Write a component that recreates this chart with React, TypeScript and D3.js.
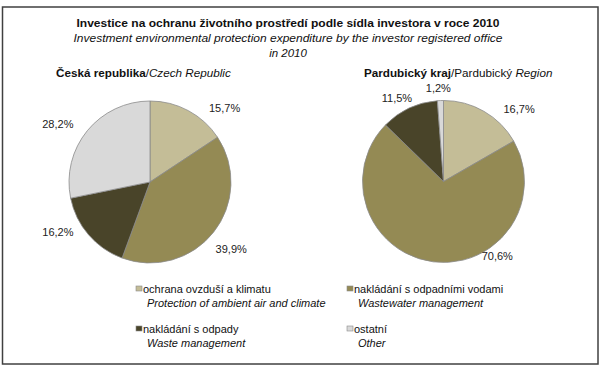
import React from 'react';
import * as d3 from 'd3';

const categoriesCz = ['ochrana ovzduší a klimatu', 'nakládání s odpadními vodami', 'nakládání s odpady', 'ostatní'];
const categoriesEn = ['Protection of ambient air and  climate', 'Wastewater management', 'Waste management', 'Other'];
const czechValues = [15.7, 39.9, 16.2, 28.2];
const pardubiceValues = [16.7, 70.6, 11.5, 1.2];
const colors = ['#C4BD97', '#948A54', '#494429', '#D9D9D9'];

// Excel "best fit" label placement, nudged by hand (degrees off mid-angle, distance from centre)
const czechLabelNudge = [{ da: 17, d: 105 }, { da: 1, d: 105 }, { da: 12, d: 105 }, { da: -7, d: 109 }];
const pardLabelNudge = [{ da: 16, d: 105 }, { da: -43, d: 92 }, { da: -4, d: 96 }, { da: -1, d: 94 }];

const W = 601;
const H = 368;
const R = 81;
const FONT = "'Liberation Sans', Arial, sans-serif";

const fmt = (v: number) => v.toFixed(1).replace('.', ',') + '%';

type PieProps = { values: number[], cx: number, cy: number, nudge: { da: number, d: number }[] };

const Pie = ({ values, cx, cy, nudge }: PieProps) => {
    const pie = d3.pie<number>().sort(null).value(d => d);
    const arcs = pie(values);
    const arc = d3.arc<d3.PieArcDatum<number>>().innerRadius(0).outerRadius(R);
    return (
        <g transform={`translate(${cx},${cy})`}>
            {arcs.map((a, i) => (
                <path key={i} d={arc(a) || ''} fill={colors[i]} stroke="#8a8a8a" strokeWidth={0.8} />
            ))}
            {arcs.map((a, i) => {
                const mid = (a.startAngle + a.endAngle) / 2 + (nudge[i].da * Math.PI) / 180;
                const x = Math.sin(mid) * nudge[i].d;
                const y = -Math.cos(mid) * nudge[i].d;
                return (
                    <text key={'l' + i} x={x} y={y + 4} textAnchor="middle" fontSize={11} fill="#222">
                        {fmt(a.data)}
                    </text>
                );
            })}
        </g>
    );
};

export default function App() {
    const legendCols = [136, 347];
    const legendRows = [286, 326];
    return (
        <svg width={W} height={H} style={{ position: 'absolute', left: 0, top: 0, background: '#fff' }} fontFamily={FONT}>
            <rect x={2.5} y={7} width={595.5} height={357} fill="#fff" stroke="#404040" strokeWidth={1.5} />

            <text x={288} y={27} textAnchor="middle" fontSize={11.5} fontWeight="bold" textLength={423} lengthAdjust="spacingAndGlyphs" fill="#111">
                Investice na ochranu životního prostředí podle sídla investora v roce 2010
            </text>
            <text x={288} y={42} textAnchor="middle" fontSize={11.5} fontStyle="italic" textLength={429} lengthAdjust="spacingAndGlyphs" fill="#111">
                Investment environmental protection expenditure by the investor registered office
            </text>
            <text x={288} y={57} textAnchor="middle" fontSize={11.5} fontStyle="italic" fill="#111">in 2010</text>

            <text x={56} y={77} fontSize={11.7} fill="#111">
                <tspan fontWeight="bold">Česká republika</tspan>/<tspan fontStyle="italic">Czech Republic</tspan>
            </text>
            <text x={364} y={77} fontSize={11.7} fill="#111">
                <tspan fontWeight="bold">Pardubický kraj</tspan>/Pardubický <tspan fontStyle="italic">Region</tspan>
            </text>

            <Pie values={czechValues} cx={150} cy={182} nudge={czechLabelNudge} />
            <Pie values={pardubiceValues} cx={443.5} cy={181.5} nudge={pardLabelNudge} />

            {categoriesCz.map((c, i) => {
                const x = legendCols[i % 2];
                const y = legendRows[Math.floor(i / 2)];
                return (
                    <g key={c}>
                        <rect x={x} y={y} width={6} height={5} fill={colors[i]} stroke="#8a8a8a" strokeWidth={0.6} />
                        <text x={x + 7} y={y + 7} fontSize={11} fill="#111">{c}</text>
                        <text x={x + 11} y={y + 21} fontSize={11} fontStyle="italic" fill="#111">{categoriesEn[i]}</text>
                    </g>
                );
            })}
        </svg>
    );
}
